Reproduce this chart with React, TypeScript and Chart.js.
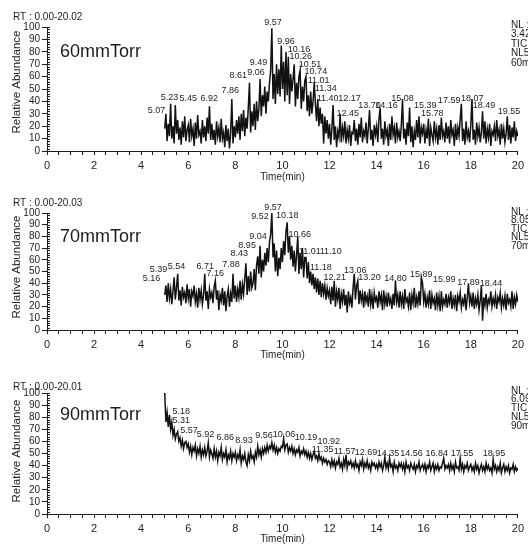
import React, { useEffect, useRef } from "react";
import { Chart, registerables } from "chart.js";

Chart.register(...registerables);
Chart.defaults.font.family = "'Liberation Sans', Arial, Helvetica, sans-serif";

// Sampling of the traces (minutes)
const TRACE_START = 5.0;
const TRACE_STEP = 0.05;

// 60 mmTorr relative abundance, 5.00 .. 20.00 min (one row = one minute)
const abundance60 = [
  18, 30, 8, 22, 12, 38, 10, 20, 6, 37, 14, 25, 9, 19, 5, 24, 11, 28, 8, 17,
  21, 7, 26, 12, 18, 4, 23, 10, 29, 13, 16, 6, 25, 11, 20, 8, 27, 14, 36, 9,
  22, 9, 17, 5, 24, 12, 19, 7, 26, 10, 15, 3, 21, 8, 18, 2, 14, 42, 6, 20,
  11, 25, 14, 28, 9, 30, 16, 33, 12, 27, 18, 35, 55, 15, 32, 20, 38, 17, 40, 24,
  34, 58, 28, 45, 36, 52, 30, 48, 40, 55, 65, 99, 42, 62, 38, 70, 46, 66, 44, 85,
  50, 72, 40, 80, 45, 76, 38, 62, 48, 58, 70, 36, 55, 42, 60, 65, 34, 52, 40, 57,
  60, 32, 45, 28, 48, 30, 40, 55, 38, 24, 42, 20, 35, 22, 30, 6, 28, 14, 25, 10,
  22, 5, 18, 37, 9, 20, 3, 16, 11, 30, 7, 19, 12, 24, 6, 17, 10, 21, 4, 15,
  14, 25, 8, 18, 5, 22, 11, 27, 7, 16, 12, 23, 6, 19, 33, 9, 17, 4, 21, 13,
  20, 7, 26, 35, 10, 18, 5, 24, 12, 17, 4, 22, 9, 28, 13, 19, 6, 23, 11, 16,
  8, 21, 42, 10, 18, 5, 23, 12, 35, 7, 20, 3, 16, 9, 25, 11, 28, 6, 19, 14,
  22, 6, 17, 10, 26, 4, 19, 13, 8, 24, 11, 18, 5, 21, 9, 27, 12, 16, 7, 23,
  10, 20, 6, 25, 13, 17, 4, 22, 9, 19, 12, 26, 38, 8, 18, 5, 24, 11, 16, 7,
  21, 42, 9, 17, 5, 23, 12, 19, 7, 15, 32, 10, 24, 6, 18, 11, 22, 4, 16, 13,
  20, 8, 25, 12, 17, 5, 22, 10, 18, 7, 14, 28, 9, 21, 6, 19, 11, 24, 8, 16,
  12,
];

// 70 mmTorr
const abundance70 = [
  30, 38, 24, 40, 27, 35, 22, 33, 45, 26, 36, 48, 25, 34, 21, 37, 28, 32, 23, 39,
  27, 35, 20, 33, 29, 38, 24, 31, 19, 36, 26, 34, 22, 30, 48, 25, 33, 18, 35, 28,
  32, 23, 37, 42, 26, 34, 17, 30, 25, 36, 21, 33, 16, 29, 35, 20, 31, 24, 48, 27,
  38, 24, 35, 28, 42, 26, 39, 31, 44, 57, 30, 46, 33, 50, 36, 40, 52, 34, 55, 63,
  48, 72, 45, 60, 50, 66, 55, 70, 58, 75, 82, 100, 62, 74, 50, 68, 46, 62, 52, 70,
  58, 76, 64, 84, 92, 66, 80, 60, 72, 54, 68, 50, 64, 80, 48, 66, 52, 70, 45, 62,
  62, 44, 58, 40, 50, 38, 48, 35, 45, 32, 44, 30, 42, 28, 40, 31, 38, 26, 36, 29,
  34, 22, 37, 25, 42, 20, 33, 26, 36, 18, 31, 24, 35, 21, 30, 15, 33, 23, 28, 19,
  36, 48, 26, 38, 42, 22, 34, 25, 31, 19, 33, 24, 29, 20, 35, 22, 30, 18, 32, 25,
  28, 19, 33, 24, 30, 17, 34, 22, 29, 20, 32, 23, 27, 18, 31, 21, 42, 24, 30, 19,
  33, 22, 29, 18, 35, 24, 27, 20, 32, 17, 30, 23, 36, 19, 28, 22, 33, 21, 45, 40,
  24, 31, 19, 28, 22, 34, 18, 30, 23, 27, 17, 32, 21, 29, 16, 33, 20, 26, 22, 31,
  19, 28, 23, 33, 18, 27, 21, 30, 16, 29, 24, 32, 19, 26, 22, 31, 17, 28, 40, 23,
  29, 20, 32, 18, 27, 22, 30, 17, 25, 38, 8, 28, 21, 31, 19, 26, 23, 33, 20, 27,
  22, 30, 18, 28, 24, 32, 19, 27, 21, 29, 17, 31, 23, 26, 20, 33, 18, 28, 22, 30,
  24,
];

// 90 mmTorr
const abundance90 = [
  100, 76, 84, 72, 82, 70, 76, 65, 70, 62, 66, 68, 60, 63, 56, 61, 54, 59, 60, 55,
  58, 51, 56, 49, 55, 52, 57, 48, 54, 50, 56, 47, 53, 49, 55, 48, 52, 59, 47, 53,
  50, 46, 54, 47, 52, 44, 51, 48, 55, 45, 50, 47, 53, 43, 49, 46, 52, 44, 50, 47,
  51, 44, 49, 46, 53, 42, 48, 45, 50, 43, 40, 49, 44, 52, 46, 48, 43, 51, 47, 56,
  49, 53, 47, 54, 50, 55, 51, 57, 52, 56, 54, 59, 53, 57, 51, 55, 50, 54, 52, 56,
  55, 62, 53, 57, 58, 51, 55, 52, 56, 50, 54, 49, 53, 51, 55, 48, 52, 50, 54, 49,
  52, 47, 51, 46, 50, 45, 49, 52, 46, 48, 44, 50, 45, 47, 42, 46, 43, 45, 41, 44,
  43, 39, 45, 40, 44, 38, 43, 41, 46, 39, 42, 37, 45, 40, 49, 38, 43, 41, 44, 39,
  42, 38, 44, 39, 41, 36, 43, 40, 45, 37, 42, 39, 44, 38, 41, 36, 43, 40, 42, 38,
  41, 37, 43, 39, 42, 36, 40, 47, 38, 42, 37, 46, 39, 41, 35, 43, 38, 40, 36, 42,
  39, 42, 37, 41, 35, 43, 38, 40, 36, 42, 39, 37, 41, 35, 40, 38, 43, 36, 39, 41,
  37, 41, 35, 40, 38, 43, 36, 39, 42, 35, 40, 37, 41, 36, 39, 38, 42, 46, 37, 40,
  38, 41, 36, 42, 37, 40, 35, 43, 38, 39, 36, 46, 37, 41, 35, 40, 38, 42, 36, 39,
  41, 36, 39, 35, 42, 37, 40, 34, 38, 41, 36, 39, 35, 42, 37, 40, 36, 38, 34, 45,
  37, 40, 35, 39, 36, 42, 34, 38, 41, 35, 39, 36, 40, 34, 38, 37, 41, 35, 39, 36,
  38,
];

// Peak annotations: text, label centre time, label level
const peakText60 = ["5.07", "5.23", "5.45", "6.92", "7.86", "8.61", "9.06", "9.49", "9.57", "9.96", "10.16", "10.26", "10.51", "10.74", "11.01", "11.34", "11.40", "12.17", "12.45", "13.70", "14.16", "15.08", "15.39", "15.78", "17.59", "18.07", "18.49", "19.55"];
const peakLabelTime60 = [4.65, 5.2, 6.0, 6.89, 7.78, 8.12, 8.88, 8.98, 9.6, 10.15, 10.7, 10.78, 11.17, 11.42, 11.54, 11.84, 11.92, 12.85, 12.77, 13.7, 14.42, 15.1, 16.07, 16.36, 17.08, 18.06, 18.56, 19.62];
const peakLabelLevel60 = [33, 43.5, 42, 42, 48.4, 60.5, 63, 71, 104, 88, 82, 76, 69.5, 64, 56.5, 50, 42.5, 42.5, 30.6, 36.3, 36.3, 42.5, 37, 30.6, 41, 42, 36.3, 32];

const peakText70 = ["5.16", "5.39", "5.54", "6.71", "7.16", "7.88", "8.43", "8.95", "9.04", "9.52", "9.57", "10.18", "10.66", "11.01", "11.10", "11.18", "12.21", "13.06", "13.20", "14.80", "15.89", "15.99", "17.89", "18.44"];
const peakLabelTime70 = [4.44, 4.74, 5.5, 6.72, 7.15, 7.82, 8.17, 8.5, 8.96, 9.05, 9.6, 10.2, 10.74, 11.16, 12.05, 11.63, 12.22, 13.09, 13.7, 14.8, 15.9, 16.87, 17.9, 18.86];
const peakLabelLevel70 = [44.4, 52, 54, 54, 48, 56, 65, 72, 80, 97, 105, 98, 82, 67, 67, 53, 45, 51, 45, 44, 47, 43, 41, 40];

const peakText90 = ["5.18", "5.31", "5.57", "5.92", "6.86", "8.93", "9.56", "10.06", "10.19", "10.92", "11.35", "11.57", "12.69", "14.35", "14.56", "16.84", "17.55", "18.95"];
const peakLabelTime90 = [5.7, 5.7, 6.03, 6.73, 7.57, 8.37, 9.22, 10.07, 11.0, 11.97, 11.71, 12.64, 13.55, 14.48, 15.48, 16.55, 17.63, 18.99];
const peakLabelLevel90 = [85, 77, 69, 66, 63, 61, 65, 66, 63, 60, 53, 52, 51, 49.6, 49.6, 49.6, 49.6, 49.6];

const panelNames = ["60mmTorr", "70mmTorr", "90mmTorr"];
const rtRanges = ["RT : 0.00-20.02", "RT : 0.00-20.03", "RT : 0.00-20.01"];
const nlInfo = [
  ["NL :", "3.42E7", "TIC MS", "NL5_", "60mmTorr"],
  ["NL :", "8.05E7", "TIC MS", "NL5_", "70mmTorr"],
  ["NL :", "6.09E7", "TIC MS", "NL5_", "90mmTorr"],
];
const xTicks = [0, 2, 4, 6, 8, 10, 12, 14, 16, 18, 20];

const INK = "#1c1c1c";
const FONT = "'Liberation Sans', Arial, Helvetica, sans-serif";

type PanelCfg = {
  top: number;
  height: number;
  plotTop: number;
  plotBottom: number;
  rtY: number;
  nameY: number;
  nlY: number[];
  yTitleY: number;
  xTitleY: number;
  values: number[];
  peakText: string[];
  peakTime: number[];
  peakLevel: number[];
  name: string;
  rt: string;
  nl: string[];
};

const panels: PanelCfg[] = [
  {
    top: 0, height: 184, plotTop: 27, plotBottom: 151,
    rtY: 17, nameY: 52, nlY: [25, 34.5, 44, 53.5, 63], yTitleY: 82, xTitleY: 177,
    values: abundance60, peakText: peakText60, peakTime: peakLabelTime60, peakLevel: peakLabelLevel60,
    name: panelNames[0], rt: rtRanges[0], nl: nlInfo[0],
  },
  {
    top: 184, height: 182, plotTop: 213, plotBottom: 330,
    rtY: 203, nameY: 237, nlY: [212, 220.5, 229, 237.5, 246], yTitleY: 267, xTitleY: 355,
    values: abundance70, peakText: peakText70, peakTime: peakLabelTime70, peakLevel: peakLabelLevel70,
    name: panelNames[1], rt: rtRanges[1], nl: nlInfo[1],
  },
  {
    top: 366, height: 178, plotTop: 393, plotBottom: 514,
    rtY: 387, nameY: 415, nlY: [391, 399.5, 408, 417, 426], yTitleY: 451, xTitleY: 539,
    values: abundance90, peakText: peakText90, peakTime: peakLabelTime90, peakLevel: peakLabelLevel90,
    name: panelNames[2], rt: rtRanges[2], nl: nlInfo[2],
  },
];

function makeDecor(p: PanelCfg) {
  return {
    id: "decor",
    afterDraw(chart: any) {
      const { ctx, chartArea } = chart;
      const xs = chart.scales.x;
      const ys = chart.scales.y;
      const off = p.top;
      ctx.save();
      // minor inward ticks on the y axis
      ctx.strokeStyle = INK;
      ctx.lineWidth = 1;
      for (let v = 0; v <= 100; v += 2) {
        const py = Math.round(ys.getPixelForValue(v)) + 0.5;
        ctx.beginPath();
        ctx.moveTo(chartArea.left, py);
        ctx.lineTo(chartArea.left + 3, py);
        ctx.stroke();
      }
      ctx.fillStyle = INK;
      ctx.textBaseline = "middle";
      // peak labels
      ctx.font = `9px ${FONT}`;
      ctx.textAlign = "center";
      for (let i = 0; i < p.peakText.length; i++) {
        ctx.fillText(p.peakText[i], xs.getPixelForValue(p.peakTime[i]), ys.getPixelForValue(p.peakLevel[i]));
      }
      // RT range
      ctx.textAlign = "left";
      ctx.font = `10px ${FONT}`;
      ctx.fillText(p.rt, 13, p.rtY - off);
      // panel name
      ctx.font = `18px ${FONT}`;
      ctx.fillText(p.name, 60, p.nameY - off);
      // NL block (cut by the right edge)
      ctx.font = `10px ${FONT}`;
      p.nl.forEach((s, i) => ctx.fillText(s, 511, p.nlY[i] - off));
      // x title
      ctx.textAlign = "center";
      ctx.font = `10px ${FONT}`;
      ctx.fillText("Time(min)", (chartArea.left + chartArea.right) / 2, p.xTitleY - off);
      // y title
      ctx.save();
      ctx.translate(17, p.yTitleY - off);
      ctx.rotate(-Math.PI / 2);
      ctx.font = `11.5px ${FONT}`;
      ctx.fillText("Relative Abundance", 0, 0);
      ctx.restore();
      ctx.restore();
    },
  };
}

function Panel({ p }: { p: PanelCfg }) {
  const ref = useRef<HTMLCanvasElement>(null);
  useEffect(() => {
    const points = p.values.map((v, i) => ({ x: TRACE_START + i * TRACE_STEP, y: v }));
    const xAxisHeight = p.height - (p.plotBottom - p.top);
    const chart = new Chart(ref.current!, {
      type: "line",
      data: {
        datasets: [
          {
            data: points,
            borderColor: "#111111",
            borderWidth: 1.5,
            pointRadius: 0,
            tension: 0,
            fill: false,
          },
        ],
      },
      options: {
        responsive: false,
        animation: false,
        devicePixelRatio: 1,
        layout: { padding: { top: p.plotTop - p.top, left: 0, right: 8, bottom: 0 } },
        plugins: { legend: { display: false }, tooltip: { enabled: false }, title: { display: false } },
        scales: {
          x: {
            type: "linear",
            min: 0,
            max: 20,
            afterFit: (s: any) => { s.height = xAxisHeight; },
            afterBuildTicks: (s: any) => {
              const t: any[] = [];
              for (let k = 0; k <= 40; k++) t.push({ value: k * 0.5 });
              s.ticks = t;
            },
            ticks: {
              autoSkip: false,
              maxRotation: 0,
              minRotation: 0,
              padding: 4,
              color: INK,
              font: { size: 11 },
              callback: (v: any) => (xTicks.includes(Number(v)) ? String(v) : ""),
            },
            grid: { drawOnChartArea: false, drawTicks: true, tickLength: 4, color: INK },
            border: { display: true, color: INK, width: 1 },
          },
          y: {
            type: "linear",
            min: 0,
            max: 100,
            afterFit: (s: any) => { s.width = 47; },
            ticks: { stepSize: 10, autoSkip: false, padding: 2, color: INK, font: { size: 10 } },
            grid: { drawOnChartArea: false, drawTicks: true, tickLength: 5, color: INK },
            border: { display: true, color: INK, width: 1 },
          },
        },
      },
      plugins: [makeDecor(p)],
    } as any);
    return () => chart.destroy();
  }, [p]);
  return (
    <canvas
      ref={ref}
      width={528}
      height={p.height}
      style={{ position: "absolute", left: 0, top: p.top, display: "block" }}
    />
  );
}

export default function App() {
  return (
    <div style={{ position: "absolute", left: 0, top: 0, width: 528, height: 544, background: "#fff", overflow: "hidden" }}>
      {panels.map((p, i) => (
        <Panel key={i} p={p} />
      ))}
    </div>
  );
}
